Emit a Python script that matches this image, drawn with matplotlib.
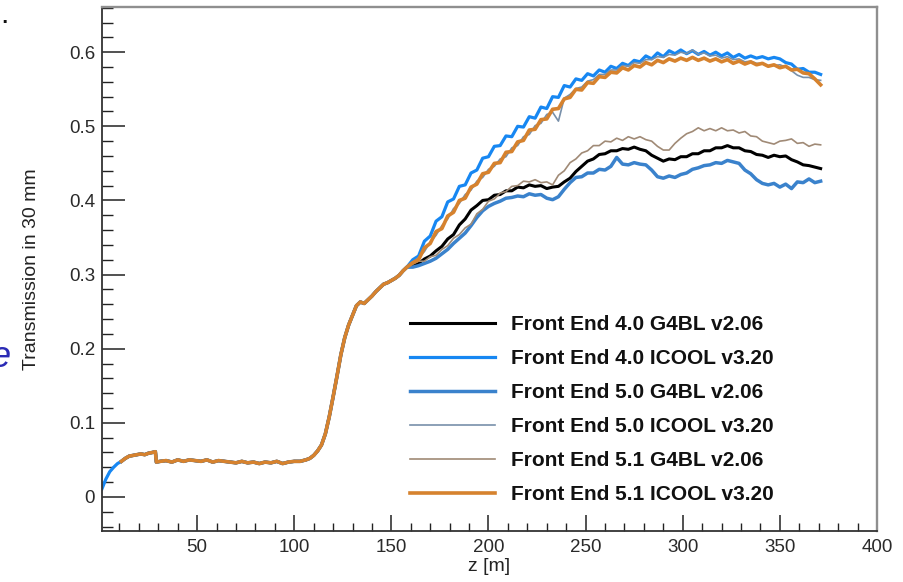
import matplotlib
matplotlib.use('Agg')
import matplotlib.pyplot as plt
from matplotlib.ticker import MultipleLocator, FuncFormatter

plt.rcParams['font.family'] = ['Liberation Sans', 'DejaVu Sans']

# shared part of all curves (they lie on top of each other up to ~160 m)
z_early = [1, 3, 5, 7, 9, 11, 13, 15, 17, 19, 21, 23, 25, 27, 28.5, 29, 31, 34, 37, 40,
           43, 46, 49, 52, 55, 58, 61, 64, 67, 70, 73, 76, 79, 82, 85, 88, 91, 94, 97, 100,
           103, 106, 108, 110, 112, 114, 116, 118, 120, 122, 124, 126, 128, 130, 132, 134, 136, 138, 140, 142,
           144, 146, 148, 150, 152, 154, 156, 158]
t_early = [.011, .024, .034, .040, .045, .048, .052, .055, .056, .057, .058, .057, .059, .060, .061, .047, .048, .049, .047, .050,
           .048, .050, .049, .048, .050, .047, .049, .048, .047, .046, .048, .046, .047, .045, .047, .046, .048, .045, .047, .048,
           .048, .050, .052, .056, .062, .070, .085, .108, .135, .163, .192, .215, .232, .245, .258, .263, .261, .266, .271, .277,
           .282, .287, .289, .292, .295, .299, .305, .310]

z_tail = [161, 164, 167, 170, 173, 176, 179, 182, 185, 188,
          191, 194, 197, 200, 203, 206, 209, 212, 215, 218,
          221, 224, 227, 230, 233, 236, 239, 242, 245, 248,
          251, 254, 257, 260, 263, 266, 269, 272, 275, 278,
          281, 284, 287, 290, 293, 296, 299, 302, 305, 308,
          311, 314, 317, 320, 323, 326, 329, 332, 335, 338,
          341, 344, 347, 350, 353, 356, 359, 362, 365, 368,
          371]

fe40_g4bl = [.312, .315, .321, .325, .332, .338, .348, .354, .367, .375,
             .387, .393, .400, .401, .407, .408, .413, .413, .418, .417,
             .421, .419, .420, .416, .418, .419, .425, .430, .439, .446,
             .453, .456, .462, .463, .467, .467, .470, .469, .472, .469,
             .467, .461, .457, .453, .456, .455, .459, .459, .463, .463,
             .467, .467, .471, .471, .474, .471, .471, .467, .466, .462,
             .461, .458, .461, .459, .460, .455, .452, .448, .447, .445,
             .443]
fe40_icool = [.320, .325, .345, .352, .372, .378, .398, .402, .419, .421,
              .437, .441, .457, .459, .473, .474, .487, .486, .500, .499,
              .513, .511, .526, .524, .540, .539, .555, .553, .564, .562,
              .571, .568, .576, .573, .581, .578, .585, .582, .589, .587,
              .595, .591, .599, .594, .602, .598, .603, .598, .602, .597,
              .601, .596, .600, .595, .599, .593, .597, .592, .595, .592,
              .594, .591, .593, .591, .586, .584, .577, .578, .573, .573,
              .570]
fe50_g4bl = [.310, .312, .315, .318, .322, .328, .334, .342, .349, .356,
             .366, .377, .386, .392, .396, .399, .403, .404, .406, .405,
             .409, .407, .408, .403, .401, .405, .415, .424, .431, .432,
             .437, .437, .442, .441, .446, .458, .449, .448, .451, .449,
             .448, .441, .432, .430, .433, .431, .435, .437, .442, .444,
             .447, .448, .451, .450, .454, .452, .450, .441, .436, .428,
             .423, .421, .423, .418, .422, .416, .425, .424, .429, .424,
             .426]
fe50_icool = [.317, .323, .331, .344, .353, .366, .375, .389, .396, .408,
              .414, .426, .431, .442, .446, .456, .459, .471, .474, .486,
              .489, .501, .504, .516, .519, .507, .538, .543, .551, .553,
              .561, .563, .570, .570, .576, .576, .582, .581, .586, .585,
              .590, .590, .594, .593, .597, .596, .600, .598, .603, .597,
              .599, .595, .596, .592, .594, .590, .591, .587, .588, .585,
              .585, .582, .582, .583, .580, .575, .569, .566, .566, .563,
              .562]
fe51_g4bl = [.314, .318, .318, .324, .326, .334, .339, .349, .354, .363,
             .368, .382, .388, .399, .402, .410, .412, .419, .420, .426,
             .425, .428, .424, .425, .421, .434, .440, .451, .456, .464,
             .467, .474, .474, .480, .479, .484, .481, .486, .483, .486,
             .482, .480, .473, .468, .468, .477, .484, .490, .493, .498,
             .494, .497, .494, .498, .494, .495, .491, .493, .487, .486,
             .480, .478, .476, .480, .481, .483, .477, .478, .473, .476,
             .475]
fe51_icool = [.316, .320, .336, .342, .358, .362, .379, .384, .400, .403,
              .418, .422, .436, .438, .450, .451, .465, .466, .479, .481,
              .495, .496, .509, .510, .523, .524, .537, .539, .550, .549,
              .559, .558, .567, .566, .573, .572, .579, .576, .582, .580,
              .586, .583, .589, .586, .591, .588, .592, .589, .593, .589,
              .592, .588, .591, .587, .590, .585, .588, .584, .587, .583,
              .585, .581, .583, .579, .581, .576, .577, .572, .571, .564,
              .556]

labels = ['Front End 4.0 G4BL v2.06', 'Front End 4.0 ICOOL v3.20',
          'Front End 5.0 G4BL v2.06', 'Front End 5.0 ICOOL v3.20',
          'Front End 5.1 G4BL v2.06', 'Front End 5.1 ICOOL v3.20']
tails = [fe40_g4bl, fe40_icool, fe50_g4bl, fe50_icool, fe51_g4bl, fe51_icool]
colors = ['#000000', '#1787f2', '#3a82cc', '#7890aa', '#a08a76', '#d6822e']
widths = [2.2, 2.3, 2.5, 1.2, 1.2, 2.6]
starts = [5, 0, 5, 5, 5, 5]   # the ICOOL 4.0 curve is the only one visible below z~10

fig = plt.figure(figsize=(9.04, 5.82), dpi=100)
ax = fig.add_axes([0.1128, 0.0876, 0.8573, 0.9004])

for lab, tail, c, lw, s in zip(labels, tails, colors, widths, starts):
    ax.plot(z_early[s:] + z_tail, t_early[s:] + tail, color=c, lw=lw, label=lab)

ax.set_xlim(1, 400)
ax.set_ylim(-0.046, 0.661)
ax.xaxis.set_major_locator(MultipleLocator(50))
ax.xaxis.set_minor_locator(MultipleLocator(10))
ax.yaxis.set_major_locator(MultipleLocator(0.1))
ax.yaxis.set_minor_locator(MultipleLocator(0.02))
ax.yaxis.set_major_formatter(FuncFormatter(lambda v, p: '%g' % round(v, 2)))

ax.tick_params(axis='both', which='both', direction='in', top=False, right=False,
               colors='#222222', labelcolor='#2a2a2a', labelsize=13.5)
ax.tick_params(axis='y', which='major', length=16.5, width=1.1, pad=5)
ax.tick_params(axis='y', which='minor', length=8, width=1.0)
ax.tick_params(axis='x', which='major', length=11.5, width=1.1, pad=6)
ax.tick_params(axis='x', which='minor', length=5.5, width=1.0)

for sp in ('left', 'bottom'):
    ax.spines[sp].set_color('#333333')
    ax.spines[sp].set_linewidth(1.3)
for sp in ('top', 'right'):
    ax.spines[sp].set_color('#8f8f8f')
    ax.spines[sp].set_linewidth(1.7)

ax.set_xlabel('z [m]', fontsize=14, color='#222222', labelpad=1)
ax.set_ylabel('Transmission in 30 mm', fontsize=14, color='#222222')
ax.yaxis.set_label_coords(-0.080, 0.5)

leg = ax.legend(loc='upper left', bbox_to_anchor=(410 / 904, 1 - 315 / 582),
                bbox_transform=fig.transFigure, frameon=False, borderpad=0,
                borderaxespad=0, handlelength=4.1, handletextpad=0.75,
                labelspacing=0.72, prop={'weight': 'bold', 'size': 15})
for t in leg.get_texts():
    t.set_color('#111111')

# scribbles at the left edge of the scanned slide
fig.text(-0.010, 0.385, 'e', color='#2b2bb5', fontsize=26, style='italic', va='center')
fig.text(0.0, 0.975, '.', color='#111111', fontsize=22, va='center')

fig.savefig('out.png', dpi=100)
